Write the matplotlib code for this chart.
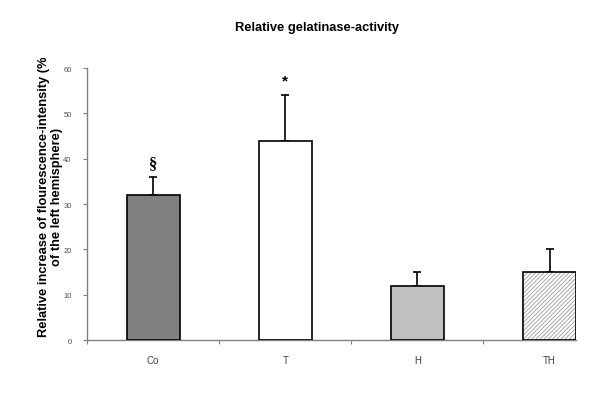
import matplotlib
matplotlib.use("Agg")
import matplotlib.pyplot as plt
import numpy as np

categories = ["Co", "T", "H", "TH"]
values = [32, 44, 12, 15]
errors = [4, 10, 3, 5]
markers = ["§", "*", "", ""]
yticks = [0, 10, 20, 30, 40, 50, 60]

plt.rcParams['font.family'] = ['Liberation Sans', 'DejaVu Sans']
plt.rcParams['hatch.linewidth'] = 0.7

fig = plt.figure(figsize=(6, 4.06), dpi=100)
ax = fig.add_axes([0.145, 0.16, 0.815, 0.67])

x = np.arange(len(categories))
faces = ['#808080', 'white', '#c0c0c0', 'white']
hatches = ['', '', '', '////////']
# hatch layer (grey hatch lines)
ax.bar(x, values, width=0.4, color=faces, edgecolor='#a8a8a8', linewidth=0,
       hatch=hatches, zorder=2)
# outline layer
ax.bar(x, values, width=0.4, color='none', edgecolor='black', linewidth=1.2, zorder=3)
ax.errorbar(x, values, yerr=[np.zeros(len(values)), errors], fmt='none',
            ecolor='black', elinewidth=1.2, capsize=3, capthick=1.2, zorder=1)

for xi, v, e, m in zip(x, values, errors, markers):
    if m == "§":
        ax.text(xi, v + e + 1.3, m, ha='center', va='bottom', fontsize=12,
                fontweight='bold', family=['Liberation Serif', 'DejaVu Serif'])
    elif m:
        ax.text(xi, v + e + 1.8, m, ha='center', va='bottom', fontsize=11,
                fontweight='bold')

ax.set_xlim(-0.5, 3.2)
ax.set_ylim(0, 60)
ax.set_yticks(yticks)
ax.set_yticklabels([str(t) for t in yticks], fontsize=5.5, color='#505050')
ax.set_xticks(x)
ax.set_xticklabels(categories, fontsize=7, color='#404040')
ax.tick_params(axis='x', length=0, pad=11)
ax.set_xticks([-0.5, 0.5, 1.5, 2.5], minor=True)
ax.tick_params(axis='x', which='minor', length=3, direction='out', color='#808080', width=0.8)
ax.tick_params(axis='y', length=3, direction='out', color='#808080', width=0.8, pad=8)

for s in ['top', 'right']:
    ax.spines[s].set_visible(False)
for s in ['left', 'bottom']:
    ax.spines[s].set_color('#808080')
    ax.spines[s].set_linewidth(1.0)

ax.set_ylabel("Relative increase of flourescence-intensity (%\nof the left hemisphere)",
              fontsize=9.3, fontweight='bold', linespacing=1.1, va='center')
ax.yaxis.set_label_coords(-0.074, 0.53)
fig.text(0.528, 0.93, "Relative gelatinase-activity", ha='center', va='center',
         fontsize=9.3, fontweight='bold')

fig.savefig("out.png", dpi=100)
